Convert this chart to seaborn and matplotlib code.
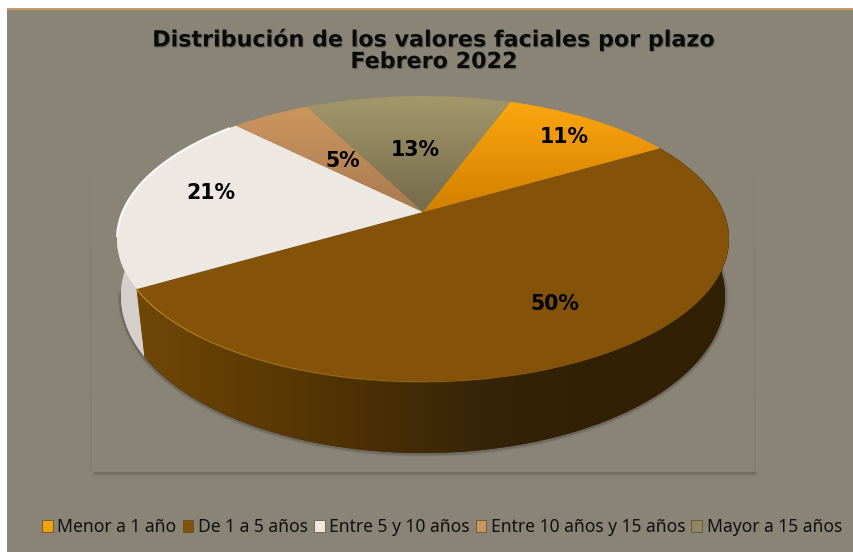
import numpy as np
import seaborn as sns
import matplotlib.pyplot as plt
import matplotlib.patches as mpatches
import matplotlib.patheffects as pe
from matplotlib.transforms import Transform

# Data
categories = ['Menor a 1 año', 'De 1 a 5 años', 'Entre 5 y 10 años',
              'Entre 10 años y 15 años', 'Mayor a 15 años']
shares = [11, 50, 21, 5, 13]
title = 'Distribución de los valores faciales por plazo\nFebrero 2022'

# Colours
bg = '#8a8477'
legend_colors = ['#f0a010', '#845208', '#eee8e2', '#c8965f', '#8f8663']
top_grad = [('#ffa80f', '#d07f00'), None, None, ('#cf9860', '#a87a50'), ('#a3976b', '#736a4b')]
side_grad = {1: ['#734907', '#5f3c05', '#4b3004', '#36230a', '#312004', '#312004'],
             2: ['#d5cfcb', '#d5cfcb']}
label_dist = [0.80, 0.71, 0.74, 0.49, 0.49]
label_turn = [-1, 2.8, -3.6, 0, 0]


class Tilt(Transform):
    """unit circle -> perspective ellipse, in picture pixels"""
    input_dims = 2
    output_dims = 2
    has_inverse = False

    def __init__(self, cx, cy, rx, ry, k):
        super().__init__()
        self.cx, self.cy, self.rx, self.ry, self.k = cx, cy, rx, ry, k

    def transform_non_affine(self, values):
        values = np.asarray(values, dtype=float)
        x, y = values[:, 0], values[:, 1]
        w = 1 + self.k * y
        px = self.cx + self.rx * np.sqrt(1 - self.k ** 2) * x / w
        py = self.cy - self.ry * (y + self.k) / w
        return np.column_stack([px, py])


top = Tilt(423, 239, 306, 143, 0.189)
bottom = Tilt(423, 296, 302, 157, 0.151)


def rim(tf, a0, a1, n=200):
    t = np.radians(np.linspace(a0, a1, n))
    return tf.transform(np.column_stack([np.cos(t), np.sin(t)]))


sns.set_theme(style='white')
plt.rcParams['font.family'] = ['DejaVu Sans']

fig = plt.figure(figsize=(8.54, 5.52), dpi=100, facecolor='white')
ax = fig.add_axes([0, 0, 1, 1])

wedges, _, autotexts = ax.pie(
    shares, startangle=70, counterclock=False, autopct='%.0f%%', pctdistance=1.0,
    colors=['#e8940a', '#845208', '#eee8e2', '#bb8858', '#8b8159'],
    wedgeprops={'transform': top + ax.transData, 'zorder': 5, 'linewidth': 0},
    textprops={'fontsize': 14.8, 'fontweight': 'bold', 'color': 'black', 'zorder': 9})

ax.set_aspect('auto')
ax.set_xlim(0, 854)
ax.set_ylim(552, 0)
ax.axis('off')

# card and inner plot area
ax.add_patch(mpatches.Rectangle((7, 8), 847, 544, fc=bg, ec='none', zorder=0))
ax.add_patch(mpatches.Rectangle((7, 8), 847, 2, fc='#c89a64', ec='none', zorder=1))
for i, a in enumerate([0.42, 0.3, 0.18, 0.08]):
    ax.plot([93, 756], [471.5 + i, 471.5 + i], color='#55524a', alpha=a, lw=1, zorder=1,
            solid_capstyle='butt')
for xpos in [91.5, 755]:
    for j, a in enumerate([0.02, 0.05, 0.09, 0.12, 0.15]):
        y0 = 97 + j * 75
        ax.plot([xpos, xpos], [y0, y0 + 75], color='#55524a', alpha=a, lw=1.2, zorder=1,
                solid_capstyle='butt')

# shadow under the wall
shadow = rim(bottom, -172, 5)
for lw, a in [(5, 0.08), (3.5, 0.12), (2.5, 0.2)]:
    ax.plot(shadow[:, 0], shadow[:, 1] + 0.5, color='#3c3a34', alpha=a, lw=lw, zorder=2)

# side wall, brown and white slices
for i in side_grad:
    w = wedges[i]
    poly = np.vstack([rim(top, w.theta1, w.theta2), rim(bottom, w.theta2, w.theta1)])
    clip = mpatches.Polygon(poly, closed=True, fc=side_grad[i][-1], ec='none', zorder=3)
    ax.add_patch(clip)
    cmap = sns.blend_palette(side_grad[i], as_cmap=True)
    im = ax.imshow(np.linspace(0, 1, 256)[None, :], cmap=cmap, aspect='auto',
                   extent=(120, 735, 470, 90), zorder=4)
    im.set_clip_path(clip)

# top face gradients
for w, grad in zip(wedges, top_grad):
    if grad is None:
        continue
    cmap = sns.blend_palette(grad, as_cmap=True)
    im = ax.imshow(np.linspace(0, 1, 256)[:, None], cmap=cmap, aspect='auto',
                   extent=(110, 735, 214, 96), zorder=6)
    im.set_clip_path(w)

# rim highlights
w = wedges[2]
line = rim(top, w.theta1 + 2, w.theta1 + 55)
ax.plot(line[:, 0], line[:, 1], color='white', lw=1.5, alpha=0.9, zorder=7)
w = wedges[1]
steps = np.linspace(w.theta1, w.theta1 + 80, 9)
for s0, s1, a in zip(steps[:-1], steps[1:], np.linspace(0.9, 0.1, 8)):
    line = rim(top, s0, s1, 30)
    ax.plot(line[:, 0], line[:, 1], color='#b98523', lw=1, alpha=a, zorder=7)

ax.set_xlim(0, 854)
ax.set_ylim(552, 0)

# value labels follow the slices
for t, d, turn in zip(autotexts, label_dist, label_turn):
    x, y = t.get_position()
    c, s = np.cos(np.radians(turn)), np.sin(np.radians(turn))
    t.set_transform(top + ax.transData)
    t.set_position(((x * c - y * s) * d, (x * s + y * c) * d))

ax.text(434, 50.5, title, ha='center', va='center', fontsize=16, fontweight='bold',
        color='#0a0a0a', linespacing=1.1, zorder=9,
        path_effects=[pe.withSimplePatchShadow(offset=(0.8, -0.8), shadow_rgbFace='#2a2a2a', alpha=0.3)])

handles = [mpatches.Patch(fc=c, ec='#5c4a20', lw=0.5) for c in legend_colors]
leg = fig.legend(handles, categories, ncol=5, frameon=False, loc='center',
                 bbox_to_anchor=(442 / 854, 1 - 527 / 552),
                 handlelength=0.62, handleheight=0.62, handletextpad=0.25, columnspacing=0.35,
                 borderpad=0, labelcolor='#111111', prop={'family': 'Noto Sans', 'size': 12.6})

plt.savefig('out.png', dpi=100)
